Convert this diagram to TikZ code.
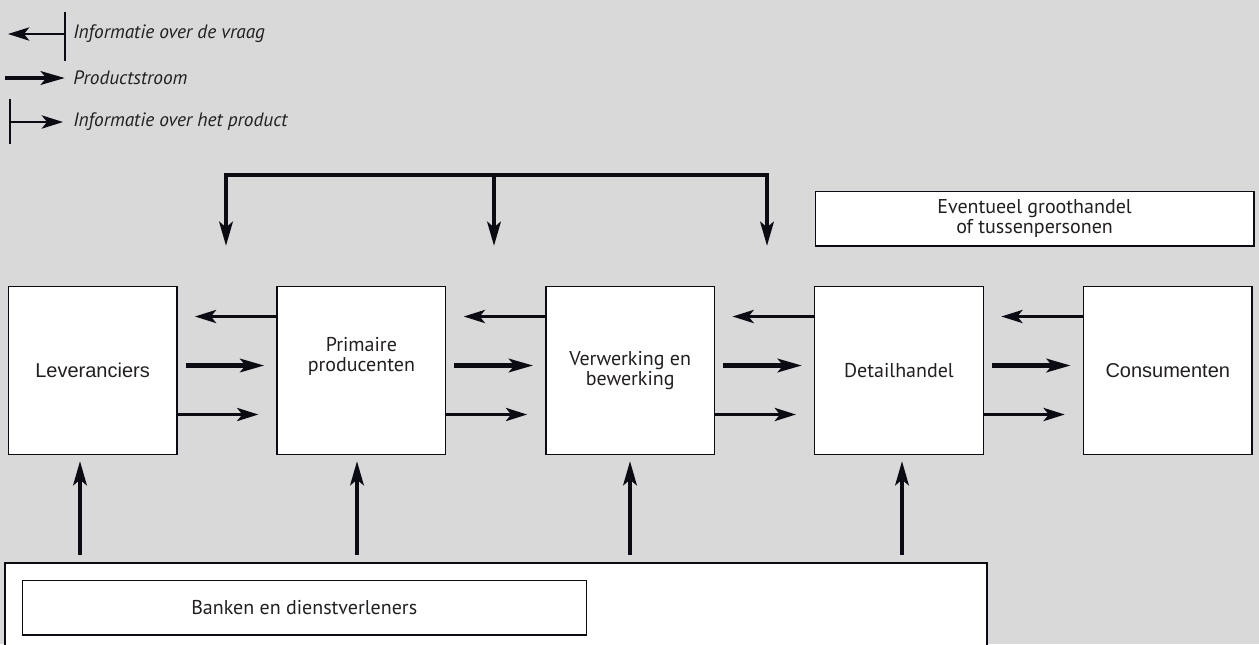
\documentclass[tikz,border=0pt]{standalone}
\usepackage{fontspec}
\setmainfont{PT Sans}
\newfontfamily\arialfont{Liberation Sans}
\usetikzlibrary{arrows.meta, positioning}

\definecolor{bggray}{HTML}{D9D9D9}
\definecolor{inkdark}{HTML}{0B0B14}
\definecolor{txtdark}{HTML}{231F20}

\tikzset{
    chainbox/.style={draw=inkdark, line width=1.1pt, fill=white, text=txtdark,
        minimum width=126.5pt, minimum height=126pt, align=center,
        inner sep=0pt, font=\fontsize{15}{15}\selectfont},
    infoarrow/.style={draw=inkdark, line width=1.6pt,
        -{Stealth[length=16pt, width=10pt, inset=4pt]}},
    flowarrow/.style={draw=inkdark, line width=3.4pt,
        -{Stealth[length=18pt, width=10pt, inset=4pt]}},
    legendtext/.style={anchor=west, text=txtdark, inner sep=0pt,
        font=\fontsize{14.5}{16}\selectfont\itshape}
}

\begin{document}
\begin{tikzpicture}[x=0.75pt, y=-0.75pt, node distance=74pt]
    \useasboundingbox (0,0) rectangle (1259,644);
    \fill[bggray] (0,0) rectangle (1259,644);

    % legenda
    \node[legendtext] (lgvraag) at (73,34) {Informatie over de vraag};
    \node[legendtext] (lgstroom) at (73,78) {Productstroom};
    \node[legendtext] (lgproduct) at (73,122) {Informatie over het product};
    \draw[inkdark, line width=1.6pt] (65,12) -- (65,61);
    \draw[infoarrow] (65,34) -- (8,34);
    \draw[flowarrow] (5,78) -- (65,78);
    \draw[inkdark, line width=1.6pt] (10,99) -- (10,144);
    \draw[infoarrow] (10,122) -- (63,122);

    % keten
    \node[chainbox, anchor=north west] (lev) at (7.5,285.5) {\arialfont Leveranciers};
    \node[chainbox] (prim) [right=of lev] {Primaire\\producenten\\[9pt]};
    \node[chainbox] (verw) [right=of prim] {Verwerking en\\bewerking};
    \node[chainbox] (detail) [right=of verw] {Detailhandel};
    \node[chainbox] (cons) [right=of detail] {\arialfont Consumenten};

    \foreach \a/\b in {lev/prim, prim/verw, verw/detail, detail/cons} {
        \draw[infoarrow] ([yshift=-23.25pt]\b.north west)
            -- ([xshift=13pt, yshift=-23.25pt]\a.north east);
        \draw[flowarrow] ([xshift=6pt, yshift=-60pt]\a.north east)
            -- ([xshift=-9pt, yshift=-60pt]\b.north west);
        \draw[infoarrow] ([yshift=-96.75pt]\a.north east)
            -- ([xshift=-13.5pt, yshift=-96.75pt]\b.north west);
    }

    % groothandel
    \node[chainbox, minimum width=329pt, minimum height=41pt, anchor=north west]
        (groot) at (814.5,190.5) {Eventueel groothandel\\of tussenpersonen};
    \coordinate (brl) at (226,175);
    \coordinate (brm) at (494,175);
    \coordinate (brr) at (767,175);
    \draw[inkdark, line width=3.4pt] ([yshift=-1.3pt]brl) -- (brl) -- (brr) -- ([yshift=-1.3pt]brr);
    \foreach \c in {brl, brm, brr}
        \draw[flowarrow] (\c) -- ++(0,71);

    % banken
    \fill[white] (5,563) rectangle (987,650);
    \draw[inkdark, line width=1.1pt] (5,650) -- (5,563) -- (987,563) -- (987,650);
    \node[chainbox, minimum width=423pt, minimum height=41pt, anchor=north west]
        (bank) at (21.5,579.5) {Banken en dienstverleners};
    \foreach \x in {80, 357, 630, 902}
        \draw[flowarrow] (\x,555) -- (\x,461);
\end{tikzpicture}
\end{document}
